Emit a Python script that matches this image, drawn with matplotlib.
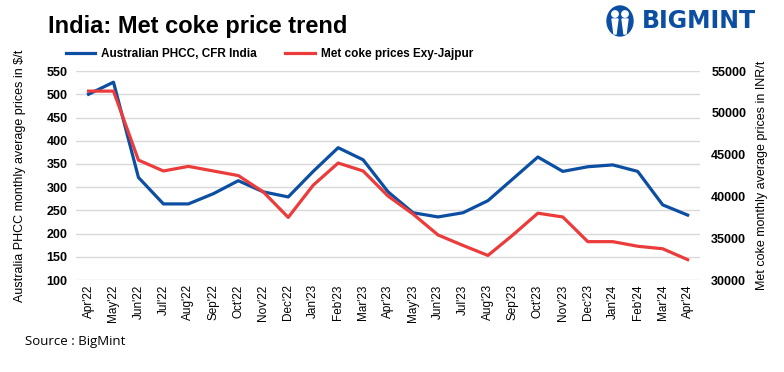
import matplotlib.pyplot as plt
from matplotlib.patches import Ellipse, Circle, Polygon

plt.rcParams['font.family'] = ['Liberation Sans', 'DejaVu Sans']

months = ["Apr'22", "May'22", "Jun'22", "Jul'22", "Aug'22", "Sep'22", "Oct'22",
          "Nov'22", "Dec'22", "Jan'23", "Feb'23", "Mar'23", "Apr'23", "May'23",
          "Jun'23", "Jul'23", "Aug'23", "Sep'23", "Oct'23", "Nov'23", "Dec'23",
          "Jan'24", "Feb'24", "Mar'24", "Apr'24"]

phcc = [500, 526, 321, 264, 264, 286, 314, 290, 279, 334, 385, 359, 290, 245,
        236, 245, 271, 318, 365, 334, 344, 348, 334, 262, 240]

met_coke = [52600, 52600, 44350, 43050, 43600, 43050, 42500, 40550, 37500, 41350,
            44000, 43050, 40050, 37900, 35400, 34150, 32950, 35400, 38000, 37550,
            34600, 34600, 34050, 33750, 32450]

blue = '#0B4EA2'
red = '#EC3B3B'

fig = plt.figure(figsize=(7.84, 3.72), dpi=100)
ax = fig.add_axes([0.097, 0.247, 0.796, 0.562])
ax2 = ax.twinx()

x = list(range(len(months)))
l1, = ax.plot(x, phcc, color=blue, lw=2.3, label='Australian PHCC, CFR India', zorder=3)
l2, = ax2.plot(x, met_coke, color=red, lw=2.3, label='Met coke prices Exy-Jajpur', zorder=3)

ax.set_xlim(-0.5, 24.5)
ax.set_ylim(100, 550)
ax.set_yticks(range(100, 551, 50))
ax2.set_ylim(30000, 55000)
ax2.set_yticks(range(30000, 55001, 5000))
ax.set_xticks(x)
ax.set_xticklabels(months, rotation=90, fontsize=8.5)

ax.grid(axis='y', color='#d9d9d9', lw=1)
ax.set_axisbelow(True)
for a in (ax, ax2):
    for s in a.spines.values():
        s.set_visible(False)
    a.tick_params(length=0)
ax.tick_params(axis='y', labelsize=9, pad=6)
ax2.tick_params(axis='y', labelsize=9, pad=8)
for t in ax.get_yticklabels() + ax2.get_yticklabels():
    t.set_fontweight('bold')
ax.tick_params(axis='x', pad=3)

ax.set_ylabel('Australia PHCC monthly average prices in $/t', fontsize=9)
ax2.set_ylabel('Met coke monthly average prices in INR/t', fontsize=9)
ax.yaxis.set_label_coords(-0.080, 0.5)
ax2.yaxis.set_label_coords(1.09, 0.5)

fig.text(48 / 784, 1 - 33 / 372, 'India: Met coke price trend', fontsize=17,
         fontweight='bold', va='baseline')

fig.legend(handles=[l1, l2], loc='center left', bbox_to_anchor=(55 / 784, 1 - 54 / 372),
           ncol=2, frameon=False, columnspacing=2.4,
           handlelength=2.5, handletextpad=0.5, prop={'weight': 'bold', 'size': 8.5})

fig.text(25 / 784, 1 - 341 / 372, 'Source : BigMint', fontsize=9.5,
         family=['Open Sans', 'DejaVu Sans'], va='center')

# logo
lg = fig.add_axes([600 / 784, 1 - 40 / 372, 40 / 784, 38 / 372])
lg.set_xlim(0, 40)
lg.set_ylim(0, 38)
lg.set_aspect('equal')
lg.axis('off')
lg.add_patch(Ellipse((20, 19), 26, 30, color=blue))
lg.add_patch(Circle((15, 26), 3.2, color='white'))
lg.add_patch(Circle((25, 26), 3.2, color='white'))
lg.add_patch(Polygon([[12, 21], [18, 21], [16, 6], [14, 6]], color='white'))
lg.add_patch(Polygon([[22, 21], [28, 21], [26, 6], [24, 6]], color='white'))
fig.text(642 / 784, 1 - 21 / 372, 'BIGMINT', fontsize=17, fontweight='bold',
         color=blue, va='center', family=['DejaVu Sans'])

fig.savefig('out.png', dpi=100)
